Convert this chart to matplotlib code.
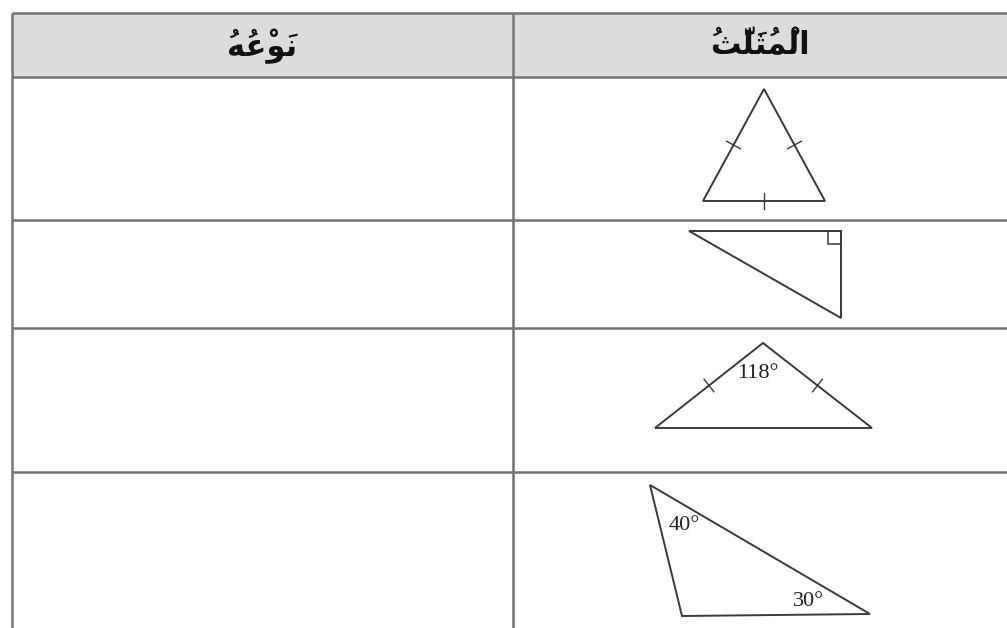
import matplotlib
matplotlib.use("Agg")
import matplotlib.pyplot as plt
from matplotlib.patches import Polygon, Rectangle
import numpy as np

# Table text (Arabic)
HEADERS = ["نَوْعُهُ", "الْمُثَلَّثُ"]   # left column, right column

# Table grid lines (pixel space of the 1007x628 picture)
col_edges = [12, 513, 1007]
row_edges = [13, 77, 220, 328, 472]

# Triangles: vertices in picture pixels
tri_equilateral = [(764, 89), (703, 201), (825, 201)]
tri_right = [(689, 231), (841, 231), (841, 318)]
tri_obtuse = [(763, 343), (655, 428), (872, 428)]
tri_scalene = [(650, 485), (682, 616), (870, 614)]

# angle labels: (text, x, y)
angle_labels = [("118°", 758, 373), ("40°", 684, 525), ("30°", 809, 601)]

# mini Arabic shaper (only the letters used here)
FORMS = {  # isolated, final, initial, medial
    "ا": ("\uFE8D", "\uFE8E", None, None),
    "ل": ("\uFEDD", "\uFEDE", "\uFEDF", "\uFEE0"),
    "م": ("\uFEE1", "\uFEE2", "\uFEE3", "\uFEE4"),
    "ث": ("\uFE99", "\uFE9A", "\uFE9B", "\uFE9C"),
    "ن": ("\uFEE5", "\uFEE6", "\uFEE7", "\uFEE8"),
    "و": ("\uFEED", "\uFEEE", None, None),
    "ع": ("\uFEC9", "\uFECA", "\uFECB", "\uFECC"),
    "ه": ("\uFEE9", "\uFEEA", "\uFEEB", "\uFEEC"),
}


def shape(text):
    """Join letters with presentation forms and lay them out right-to-left."""
    clusters = []
    for ch in text:
        if 0x064B <= ord(ch) <= 0x0652 and clusters:
            clusters[-1][1].append(ch)
        else:
            clusters.append([ch, []])
    out = []
    for i, (ch, marks) in enumerate(clusters):
        prev_joins = i > 0 and FORMS[clusters[i - 1][0]][2] is not None
        next_exists = i < len(clusters) - 1
        can_left = FORMS[ch][2] is not None
        if prev_joins and next_exists and can_left:
            g = FORMS[ch][3]
        elif prev_joins:
            g = FORMS[ch][1]
        elif next_exists and can_left:
            g = FORMS[ch][2]
        else:
            g = FORMS[ch][0]
        # the mark glyphs sit over the glyph that follows them in the drawn order
        out.append("".join(marks) + g)
    return "".join(reversed(out))


fig = plt.figure(figsize=(10.07, 6.28), dpi=100)
ax = fig.add_axes([0, 0, 1, 1])
ax.set_xlim(0, 1007)
ax.set_ylim(628, 0)
ax.axis("off")

grid_color = "#737373"
# header background
ax.add_patch(Rectangle((col_edges[0], row_edges[0]), col_edges[-1] - col_edges[0],
                       row_edges[1] - row_edges[0], facecolor="#dcdcdc", edgecolor="none"))
for y in row_edges:
    ax.plot([col_edges[0], col_edges[-1]], [y, y], color=grid_color, lw=1.8, solid_capstyle="butt")
for x in col_edges[:2]:
    ax.plot([x, x], [row_edges[0], 628], color=grid_color, lw=1.8, solid_capstyle="butt")

# headers
for i, h in enumerate(HEADERS):
    cx = (col_edges[i] + col_edges[i + 1]) / 2
    ax.text(cx, 46, shape(h), ha="center", va="center", fontsize=22,
            fontweight="bold", family="DejaVu Sans", color="#111111")

tri_color = "#3a3a3a"
for tri in [tri_equilateral, tri_right, tri_obtuse, tri_scalene]:
    ax.add_patch(Polygon(tri, closed=True, fill=False, edgecolor=tri_color, lw=1.4,
                         joinstyle="miter"))


def tick(p, q, size=8):
    p, q = np.array(p, float), np.array(q, float)
    m = (p + q) / 2
    d = (q - p) / np.linalg.norm(q - p)
    n = np.array([-d[1], d[0]])
    a, b = m - n * size, m + n * size
    ax.plot([a[0], b[0]], [a[1], b[1]], color=tri_color, lw=1.0)


# equal-side ticks
tick(tri_equilateral[0], tri_equilateral[1])
tick(tri_equilateral[0], tri_equilateral[2])
tick(tri_equilateral[1], tri_equilateral[2])
tick(tri_obtuse[0], tri_obtuse[1])
tick(tri_obtuse[0], tri_obtuse[2])

# right-angle box
rx, ry = tri_right[1]
ax.add_patch(Rectangle((rx - 13, ry), 13, 13, fill=False, edgecolor=tri_color, lw=1.1))

for txt, x, y in angle_labels:
    ax.text(x, y, txt, ha="center", va="center", fontsize=16,
            family="Liberation Serif", color="#222222")

fig.savefig("out.png", dpi=100)
